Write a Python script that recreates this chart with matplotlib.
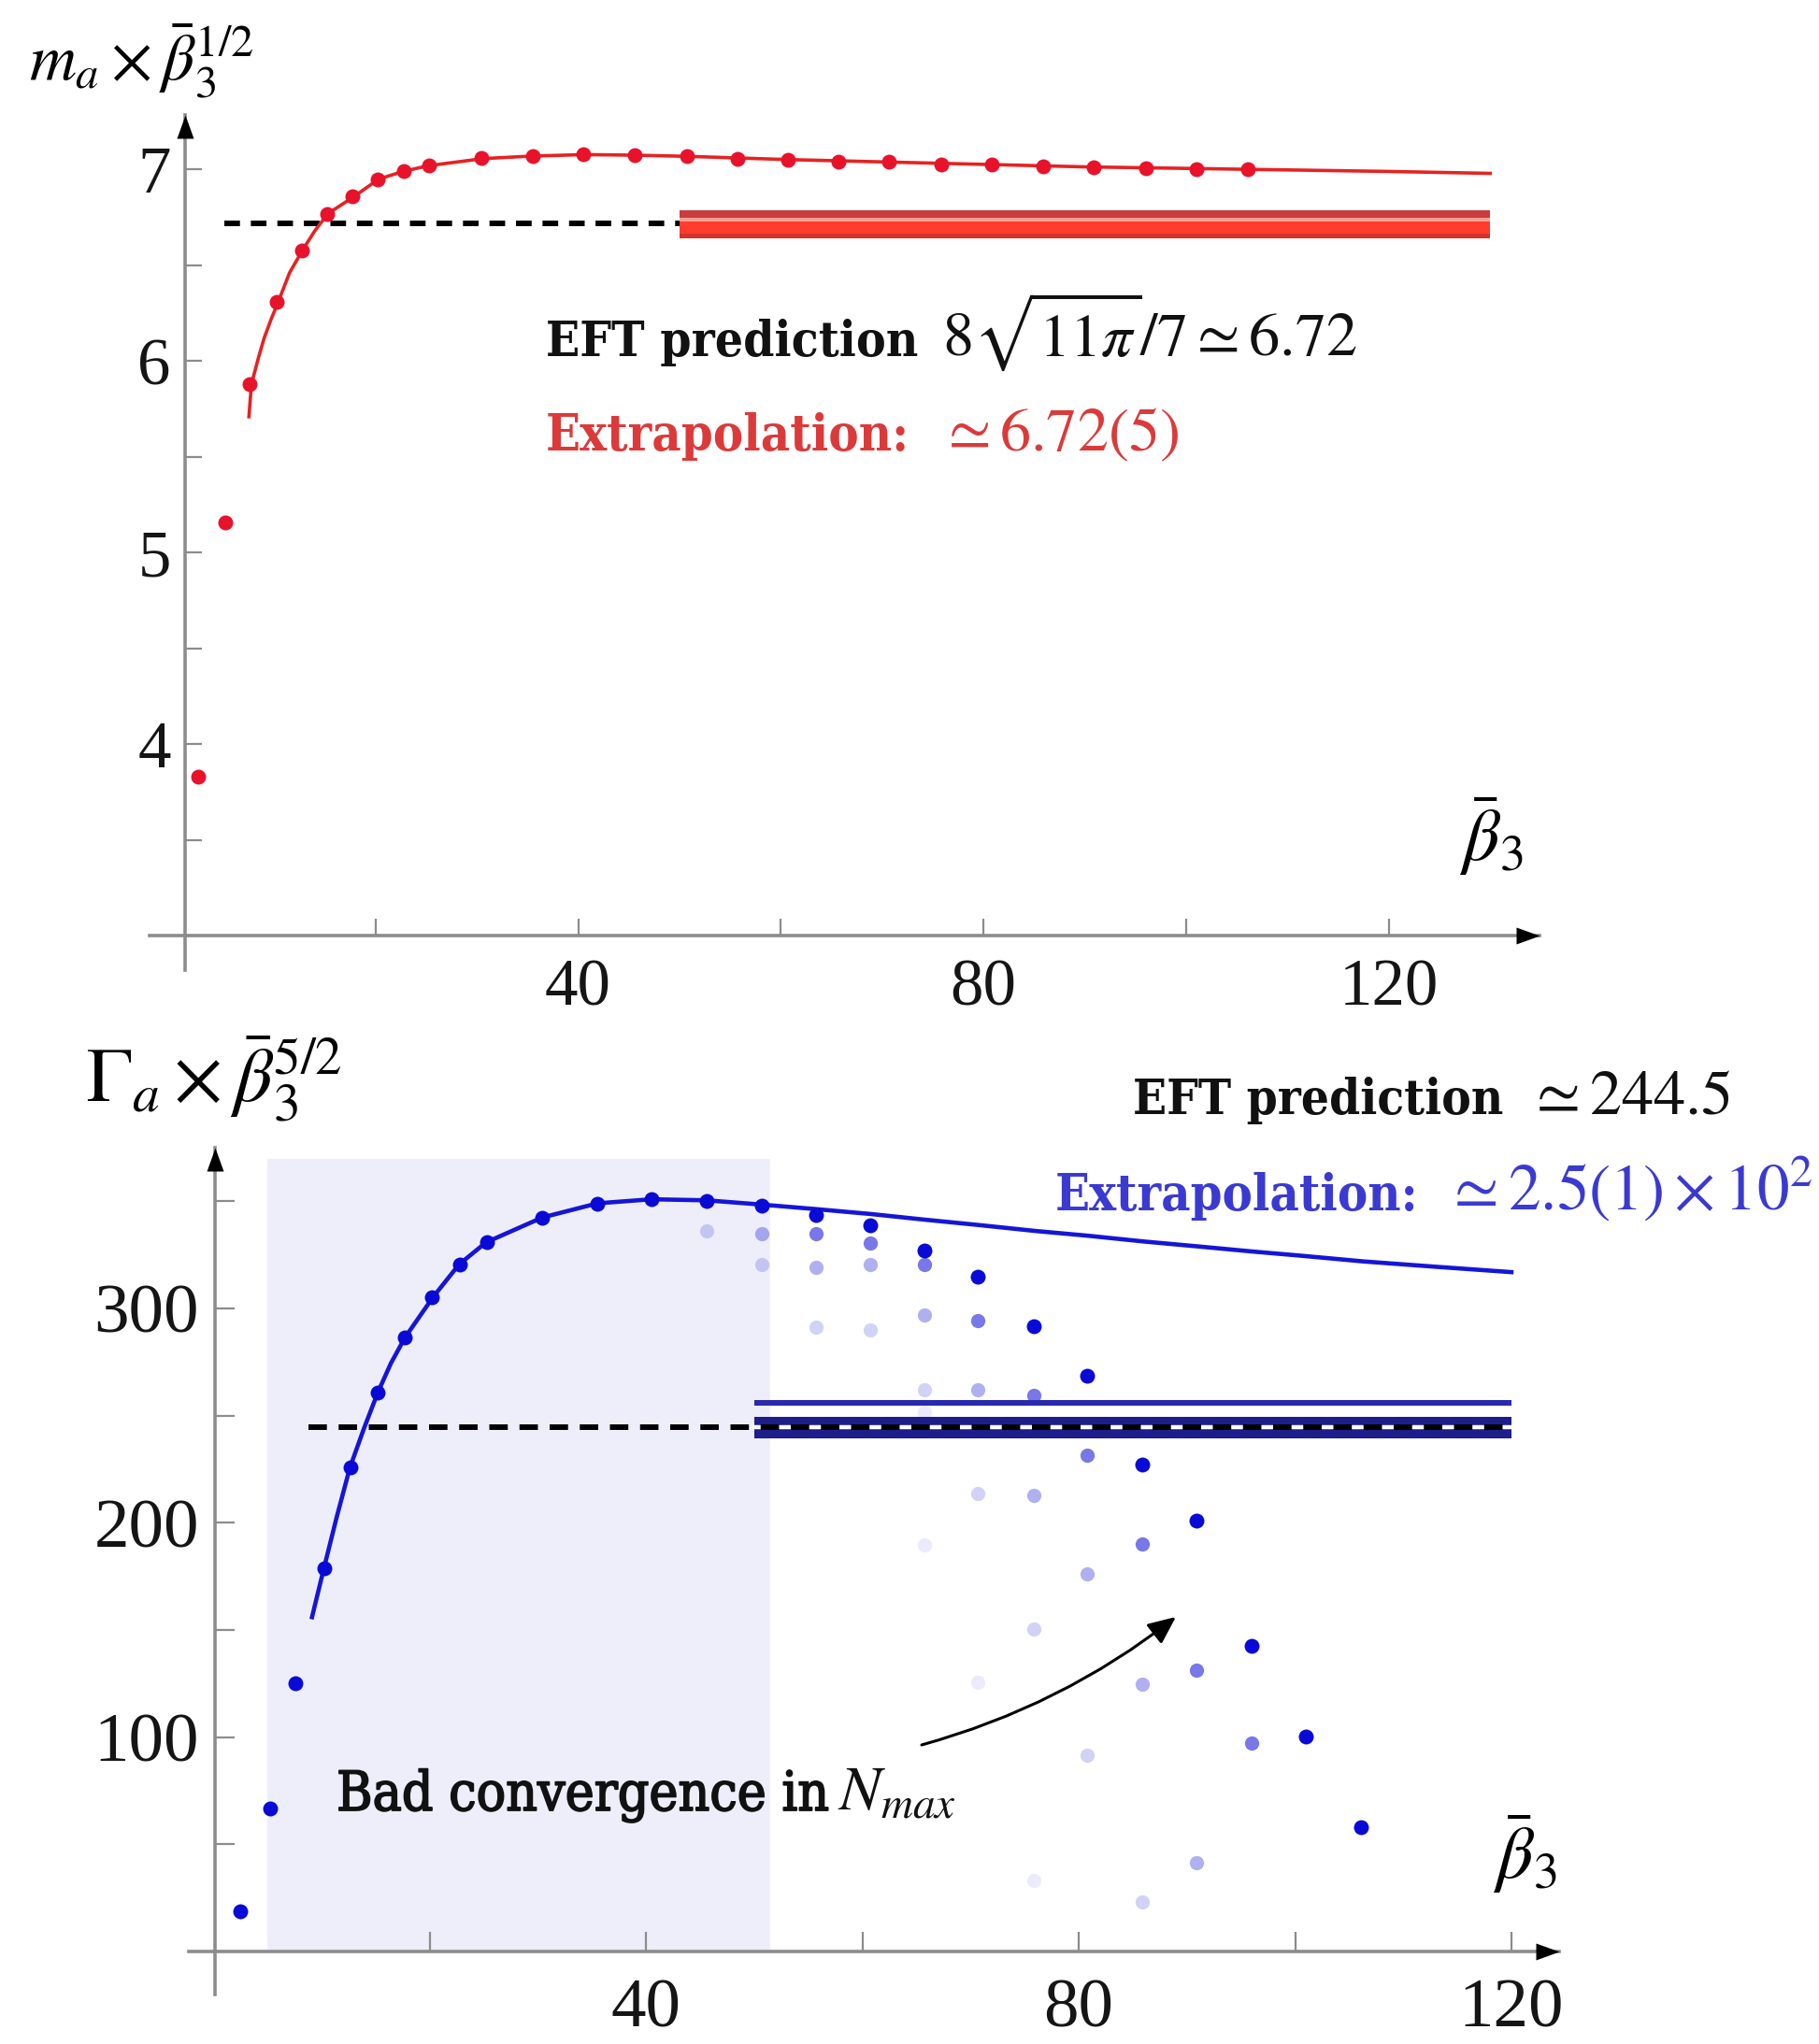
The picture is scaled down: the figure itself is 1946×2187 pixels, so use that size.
import os
import numpy as np
import matplotlib
matplotlib.use('Agg')
import matplotlib.pyplot as plt
from matplotlib import font_manager as fm
from matplotlib import patheffects as pe
from matplotlib.path import Path

# ---------------- data ----------------
beta = [2.5, 5.2, 7.6, 10.2, 12.7, 15.2, 17.7, 20.2, 22.8, 25.3, 30.4, 35.5, 40.5,
        45.6, 50.7, 55.7, 60.7, 65.7, 70.7, 75.8, 80.8, 85.9, 90.9, 96.0, 101.0, 106.1]

# top panel: m_a * beta^(1/2)
mass_pts = [3.83, 5.16, 5.88, 6.31, 6.58, 6.77, 6.86, 6.95, 6.99, 7.02, 7.06, 7.07, 7.08,
            7.075, 7.07, 7.056, 7.052, 7.042, 7.039, 7.026, 7.026, 7.015, 7.012, 7.008, 7.004, 7.00]
mass_fit_beta = [7.5, 7.75, 8.4, 9.0, 9.7, 10.4, 11.5, 12.8, 14.0, 15.3, 17.9, 20.3, 22.7, 25.2,
                 30.6, 35.3, 40.6, 45.5, 50.7, 60.7, 70.7, 80.8, 90, 100, 110, 120, 130]
mass_fit = [5.71, 5.88, 6.01, 6.12, 6.22, 6.31, 6.46, 6.58, 6.68, 6.77, 6.86, 6.95, 6.99, 7.02,
            7.057, 7.07, 7.078, 7.075, 7.069, 7.052, 7.039, 7.026, 7.014, 7.006, 6.998, 6.99, 6.98]
EFT_mass = 6.72
eft_mass_beta = [5.1, 50]
mass_band_beta = [50, 130]
mass_band_edges = [6.641, 6.665, 6.727, 6.750, 6.787]

# bottom panel: Gamma_a * beta^(5/2)
width_pts = [18.9, 66.9, 125.3, 178.8, 225.7, 261.0, 286.5, 305.4, 320.6, 330.9, 342.5, 349.1, 351.0,
             350.3, 348.0, 343.5, 338.9, 326.9, 315.0, 291.6, 268.5, 227.4, 201.2, 142.8, 100.3, 58.2]
# lower-Nmax truncations (fainter points)
nmaxB_beta = [55.7, 60.7, 65.7, 70.7, 75.8, 80.8, 85.9, 90.9, 96.0]
nmaxB = [335.1, 330.6, 320.5, 294.5, 259.7, 231.6, 190.3, 131.3, 97.4]
nmaxC_beta = [50.7, 55.7, 60.7, 65.7, 70.7, 75.8, 80.8, 85.9, 90.9]
nmaxC = [335.1, 319.4, 320.5, 296.8, 261.9, 212.8, 176.3, 124.9, 41.6]
nmaxD_beta = [45.6, 50.7, 55.7, 60.7, 65.7, 70.7, 75.8, 80.8, 85.9]
nmaxD = [336.2, 320.5, 291.2, 290.0, 261.9, 213.5, 150.5, 91.8, 23.0]
nmaxE_beta = [65.7, 65.7, 70.7, 75.8]
nmaxE = [251.8, 189.8, 125.6, 33.2]

width_fit_beta = [9.1, 10.2, 11.4, 12.6, 13.9, 15.2, 16.4, 17.7, 20.3, 22.7, 25.2, 30.4, 35.5, 40.5,
                  45.6, 50.7, 55.7, 60.8, 65.7, 70.7, 76.0, 80.8, 86.0, 91.0, 96.1, 100.9, 106.3, 113, 120]
width_fit = [156, 178.8, 203, 225.7, 244, 261, 274.5, 286.5, 305.4, 320.6, 330.9, 342.5, 349.1, 351,
             350.5, 348.5, 346.4, 344.1, 341.5, 339, 336.2, 334, 331.3, 329, 326.6, 324.5, 322, 319.5, 317]
EFT_width = 244.5
eft_width_beta = [8.8, 120]
width_band_beta = [50, 120]
width_band_lower = [239.3, 249.5]
width_band_upper = [254.5, 257.5]
shade_beta = [5, 51.5]
shade_top = 370

xticks = [20, 40, 60, 80, 100, 120]
xtick_labels = ['', '40', '', '80', '', '120']
mass_ticks = [3.5, 4, 4.5, 5, 5.5, 6, 6.5, 7]
mass_tick_labels = ['', '4', '', '5', '', '6', '', '7']
width_ticks = [50, 100, 150, 200, 250, 300, 350]
width_tick_labels = ['', '100', '', '200', '', '300', '']

# ---------------- figure ----------------
plt.rcParams['font.family'] = ['Liberation Serif', 'DejaVu Serif']
plt.rcParams['mathtext.fontset'] = 'stix'

W, H, DPI = 1946, 2187, 100
fig = plt.figure(figsize=(W / DPI, H / DPI), dpi=DPI)
fig.patch.set_facecolor('white')

# pixel calibration of the two panels
T_x0, T_sx, T_y7, T_sy, T_bot = 185.0, 10.84, 181.4, 205.0, 1050
B_x0, B_sx, B_y0, B_sy, B_top = 228.5, 11.57, 2088.0, 2.293, 1050

axT = fig.add_axes([0, 1 - T_bot / H, 1, T_bot / H])
axB = fig.add_axes([0, 0, 1, (H - B_top) / H])

AX_GRAY = '#8c8c8c'
UP = Path([(0, 0), (-0.36, -1), (0.36, -1), (0, 0)],
          [Path.MOVETO, Path.LINETO, Path.LINETO, Path.CLOSEPOLY])
RIGHT = Path([(0, 0), (-1, 0.36), (-1, -0.36), (0, 0)],
             [Path.MOVETO, Path.LINETO, Path.LINETO, Path.CLOSEPOLY])


def style_axis(ax, xpos, ypos, xb, yb, yt, ytl, lsize, tlen, xpad, ypad, xlim, ylim):
    for s in ('top', 'right'):
        ax.spines[s].set_visible(False)
    ax.patch.set_visible(False)
    ax.spines['left'].set_position(('data', xpos))
    ax.spines['bottom'].set_position(('data', ypos))
    ax.spines['left'].set_bounds(*yb)
    ax.spines['bottom'].set_bounds(*xb)
    for s in ('left', 'bottom'):
        ax.spines[s].set_color(AX_GRAY)
        ax.spines[s].set_linewidth(2.6)
    ax.set_xticks(xticks)
    ax.set_xticklabels(xtick_labels)
    ax.set_yticks(yt)
    ax.set_yticklabels(ytl)
    ax.tick_params(direction='in', length=tlen, width=1.6, color=AX_GRAY,
                   labelsize=lsize, labelcolor='#151515')
    ax.tick_params(axis='x', pad=xpad)
    ax.tick_params(axis='y', pad=ypad)
    ax.set_xlim(*xlim)
    ax.set_ylim(*ylim)
    # arrow heads
    ax.plot([xpos], [yb[1]], marker=UP, ms=36, color='k', mew=0, clip_on=False, zorder=6)
    ax.plot([xb[1]], [ypos], marker=RIGHT, ms=36, color='k', mew=0, clip_on=False, zorder=6)


style_axis(axT, 1.2, 3.0, (-2.3, 134.9), (2.82, 7.286), mass_ticks, mass_tick_labels,
           51, 13, 17, 11,
           (-T_x0 / T_sx, (W - T_x0) / T_sx),
           (7 - (T_bot - T_y7) / T_sy, 7 + T_y7 / T_sy))
style_axis(axB, 0.1, 0.0, (-2.3, 124.4), (-20, 375.2), width_ticks, width_tick_labels,
           54, 15, 21, 12,
           (-B_x0 / B_sx, (W - B_x0) / B_sx),
           ((B_y0 - H) / B_sy, (B_y0 - B_top) / B_sy))

# ---------------- top panel ----------------
e = mass_band_edges
axT.fill_between(mass_band_beta, e[0], e[1], color='#d6322b', lw=0, zorder=2)
axT.fill_between(mass_band_beta, e[1], e[2], color='#ff3d2e', lw=0, zorder=2)
axT.fill_between(mass_band_beta, e[2], e[3], color='#ff9d94', lw=0, zorder=2)
axT.fill_between(mass_band_beta, e[3], e[4], color='#c93b3d', lw=0, zorder=2)
axT.plot(eft_mass_beta, [EFT_mass] * 2, color='k', lw=4.3, dashes=(2.8, 1.95), zorder=3)
axT.plot(mass_fit_beta, mass_fit, color='#e62222', lw=2.6, zorder=4)
axT.plot(beta, mass_pts, 'o', ms=11.5, color='#e8132b', mew=0, zorder=5)

# ---------------- bottom panel ----------------
axB.fill_between(shade_beta, 0, shade_top, color='#eeeefb', lw=0, zorder=0)
PT_BLUE = '#0a0ad6'
for xs, ys, a in ((nmaxE_beta, nmaxE, 0.08), (nmaxD_beta, nmaxD, 0.18),
                  (nmaxC_beta, nmaxC, 0.32), (nmaxB_beta, nmaxB, 0.55)):
    axB.plot(xs, ys, 'o', ms=11, color=PT_BLUE, alpha=a, mew=0, zorder=1)
axB.fill_between(width_band_beta, *width_band_lower, color='#1d1d8c', lw=0, zorder=2)
axB.fill_between(width_band_beta, *width_band_upper, color='#2a2aae', lw=0, zorder=2)
axB.plot(width_band_beta, [EFT_width] * 2, color='white', lw=3.2, zorder=3)
axB.plot(eft_width_beta, [EFT_width] * 2, color='k', lw=4.3, dashes=(3.3, 2.1), zorder=3)
axB.plot(width_fit_beta, width_fit, color='#1515d8', lw=3.3, zorder=4)
axB.plot(beta, width_pts, 'o', ms=11.5, color=PT_BLUE, mew=0, zorder=5)

# ---------------- text ----------------
renderer = fig.canvas.get_renderer()


def find_font(names, family, weight):
    for f in fm.fontManager.ttflist:
        if os.path.basename(f.fname) in names:
            return fm.FontProperties(fname=f.fname)
    return fm.FontProperties(family=family, weight=weight)


SLAB_B = find_font(['DejaVuSerifCondensed-Bold.ttf'], 'Liberation Serif', 'bold')
SLAB_R = find_font(['DejaVuSerifCondensed.ttf'], 'Liberation Serif', 'normal')


def put(xpx, ypx, s, target_w=None, size=40, fp=None, **kw):
    if fp is not None:
        kw['fontproperties'] = fp.copy()
    t = fig.text(xpx / W, 1 - ypx / H, s, ha='left', va='baseline', **kw)
    t.set_fontsize(size)
    if target_w is not None:
        w = t.get_window_extent(renderer).width
        t.set_fontsize(size * target_w / w)
    return t


RED_T = '#dc3a3a'
BLUE_T = '#3a3ad2'

# axis labels
put(31, 86, r'$m_a\times\bar{\beta}_3^{1/2}$', target_w=241)
put(1561, 921, r'$\bar{\beta}_3$', size=56)
put(92, 1179, r'$\Gamma_a\times\bar{\beta}_3^{5/2}$', target_w=275)
put(1597, 2010, r'$\bar{\beta}_3$', size=56)

# top annotations
put(584, 381, 'EFT prediction', target_w=398, fp=SLAB_B, color='#111111')
put(1008, 381, r'$8\sqrt{11\pi}/7\simeq 6.72$', target_w=444, color='#111111')
put(584, 482, 'Extrapolation:', target_w=389, fp=SLAB_B, color=RED_T)
put(1005, 482, r'$\simeq 6.72(5)$', target_w=256, color=RED_T)

# bottom annotations
put(1212, 1192, 'EFT prediction', target_w=396, fp=SLAB_B, color='#111111')
put(1634, 1192, r'$\simeq 244.5$', target_w=218, color='#111111')
put(1129, 1295, 'Extrapolation:', target_w=388, fp=SLAB_B, color=BLUE_T)
put(1546, 1295, r'$\simeq 2.5(1)\times 10^2$', target_w=394, color=BLUE_T)
tb = put(360, 1937, 'Bad convergence in', target_w=527, fp=SLAB_R, color='#111111')
tb.set_path_effects([pe.withStroke(linewidth=1.3, foreground='#111111')])
put(896, 1937, r'$N_{max}$', target_w=127, color='#111111')

axB.annotate('', xy=(1258, H - 1730), xycoords='figure pixels',
             xytext=(986, H - 1867), textcoords='figure pixels',
             arrowprops=dict(arrowstyle='-|>,head_length=0.45,head_width=0.2',
                             mutation_scale=40, color='k', lw=2.2,
                             connectionstyle='arc3,rad=0.1', shrinkA=0, shrinkB=0))

fig.savefig('out.png', dpi=DPI)
